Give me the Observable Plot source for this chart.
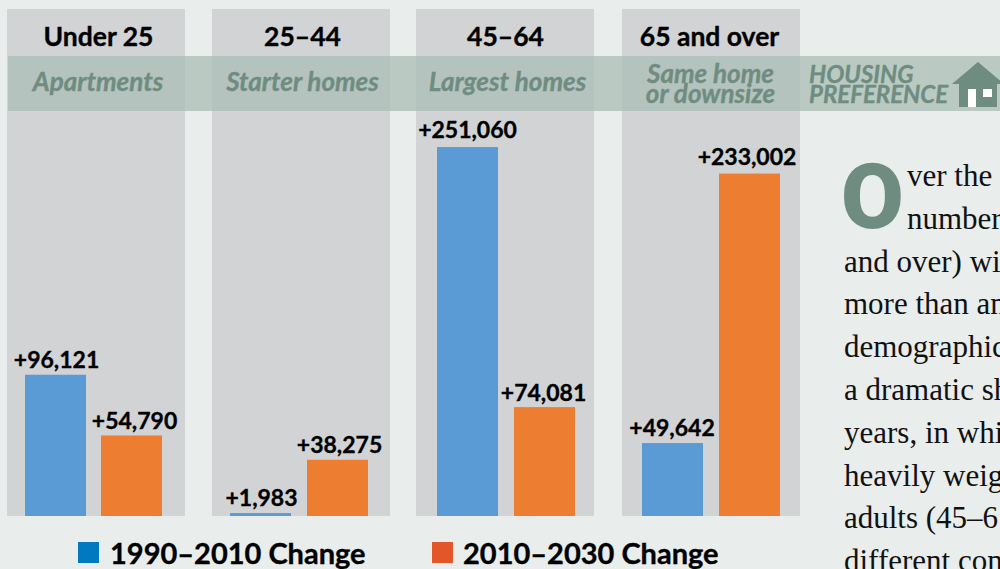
<!DOCTYPE html>
<html><head><meta charset="utf-8">
<script src="https://cdn.jsdelivr.net/npm/d3@7"></script>
<script src="https://cdn.jsdelivr.net/npm/@observablehq/plot@0.6"></script>
<style>
html,body{margin:0;padding:0;background:#e9edec;overflow:hidden}
#page{position:relative;width:1000px;height:569px;overflow:hidden;background:#e9edec}
#chart{position:absolute;left:0;top:0}
.leg{position:absolute;top:535px;font:700 29px Lato,sans-serif;color:#000;white-space:nowrap;-webkit-text-stroke:.35px #000}
.sw{position:absolute;top:542px;width:21px;height:21px}
.line{position:absolute;font:31px/43px "Liberation Serif",serif;color:#111;white-space:nowrap}
#drop{position:absolute;left:841px;top:152px;font:900 91px/91px Roboto,sans-serif;color:#6f8c81}
</style></head><body>
<div id="page"><div id="chart"></div></div>
<script>
const groups = ["Under 25","25–44","45–64","65 and over"];
const preferences = ["Apartments","Starter homes","Largest homes","Same home\nor downsize"];
const periods = ["1990–2010 Change","2010–2030 Change"];
const change1990 = [96121,1983,251060,49642];
const change2010 = [54790,38275,74081,233002];
const bodyLines = ["ver the","number","and over) wi","more than an","demographic","a dramatic sh","years, in whi","heavily weig","adults (45–6","different con"];

const barColors = ["#5b9bd5","#ed7d31"];
const legendColors = ["#0079c1","#e2562a"];
const nudgePanel = [0,0,-1,0];
const nudgeHeader = [2,1,-1,-2];
const nudgePref = [1.5,1,1,-1];
const nudgeBar = {"Under 25":[0,0],"25–44":[0,1],"45–64":[2,3],"65 and over":[2,3]};
const nudgeLabel = {"Under 25":[0,2],"25–44":[0,2],"45–64":[1,1],"65 and over":[0.5,-0.5]};

const bars = groups.flatMap((g,i)=>[
  {group:g,period:periods[0],value:change1990[i]},
  {group:g,period:periods[1],value:change2010[i]}
]);
const yMax = 345000;
const fmt = v => "+" + d3.format(",")(v);
const fonts = "Lato,sans-serif";
const green = "#6f8c81";

const marks = [
  ...groups.map((g,i)=>Plot.barY([g],{fx:d=>d,y:()=>yMax,fill:"#d2d3d5",dx:nudgePanel[i]})),
  Plot.rect([0],{facet:"super",fill:"#aabdb4",fillOpacity:0.75,insetLeft:1,insetRight:-200,insetTop:47,insetBottom:405}),
  ...groups.map((g,i)=>Plot.text([g],{fx:d=>d,text:d=>d,frameAnchor:"top",dy:28,dx:nudgeHeader[i],fontSize:26.5,fontWeight:700,fontFamily:fonts,fill:"#000",stroke:"#000",strokeWidth:0.35,lineAnchor:"middle"})),
  ...preferences.map((p,i)=>Plot.text([{g:groups[i],p}],{fx:"g",text:"p",frameAnchor:"top",dy:p.includes("\n")?77:74.5,dx:nudgePref[i],fontSize:26,fontWeight:700,fontStyle:"italic",fontFamily:fonts,fill:green,stroke:green,strokeWidth:0.35,lineAnchor:"middle",lineHeight:0.78})),
  ...bars.map((d,i)=>Plot.barY([d],{fx:"group",x:"period",y:"value",fill:"period",dx:nudgeBar[d.group][i%2],insetLeft:-1})),
  ...bars.map((d,i)=>Plot.text([d],{fx:"group",x:"period",y:"value",text:e=>fmt(e.value),dy:d.value>200000?-16.5:-14.5,dx:nudgeLabel[d.group][i%2],fontSize:23,fontWeight:700,fontFamily:fonts,fill:"#000",stroke:"#000",strokeWidth:0.35,lineAnchor:"middle"}))
];

const plot = Plot.plot({
  width:1000,height:569,
  marginTop:9,marginBottom:53,marginLeft:7,marginRight:200,
  style:{background:"transparent",overflow:"visible"},
  fx:{domain:groups,range:[7,800],paddingInner:27/205,paddingOuter:0,axis:null},
  x:{domain:periods,axis:null,paddingInner:0.205,paddingOuter:0.263,align:0.447},
  y:{domain:[0,yMax],axis:null},
  color:{domain:periods,range:barColors},
  marks
});
const page = document.getElementById("page");
document.getElementById("chart").appendChild(plot);

const house = `<svg style="position:absolute;left:948px;top:58px" width="52" height="52" viewBox="948 58 52 52">
<polygon points="952,84 978,62 1004,84" fill="${green}"/><rect x="959" y="84" width="38" height="23" fill="${green}"/>
<rect x="968" y="89" width="8" height="18" fill="#fff"/><rect x="983" y="89" width="9" height="8" fill="#fff"/></svg>`;
page.insertAdjacentHTML("beforeend",house);
const hp = ["HOUSING","PREFERENCE"];
hp.forEach((t,i)=>page.insertAdjacentHTML("beforeend",`<div style="position:absolute;left:809px;top:${62+i*20}px;font:italic 700 24px/24px Lato,sans-serif;color:${green};white-space:nowrap;-webkit-text-stroke:.35px ${green}">${t}</div>`));
periods.forEach((p,i)=>{
  const x=[78,432][i], tx=[110,463][i];
  page.insertAdjacentHTML("beforeend",`<div class="sw" style="left:${x}px;background:${legendColors[i]}"></div><div class="leg" style="left:${tx}px">${p}</div>`);
});
page.insertAdjacentHTML("beforeend",`<div id="drop">O</div>`);
bodyLines.forEach((t,i)=>{
  const x = i<2 ? 907 : 844;
  page.insertAdjacentHTML("beforeend",`<div class="line" style="left:${x}px;top:${154+i*42.8}px">${t}</div>`);
});
</script></body></html>
